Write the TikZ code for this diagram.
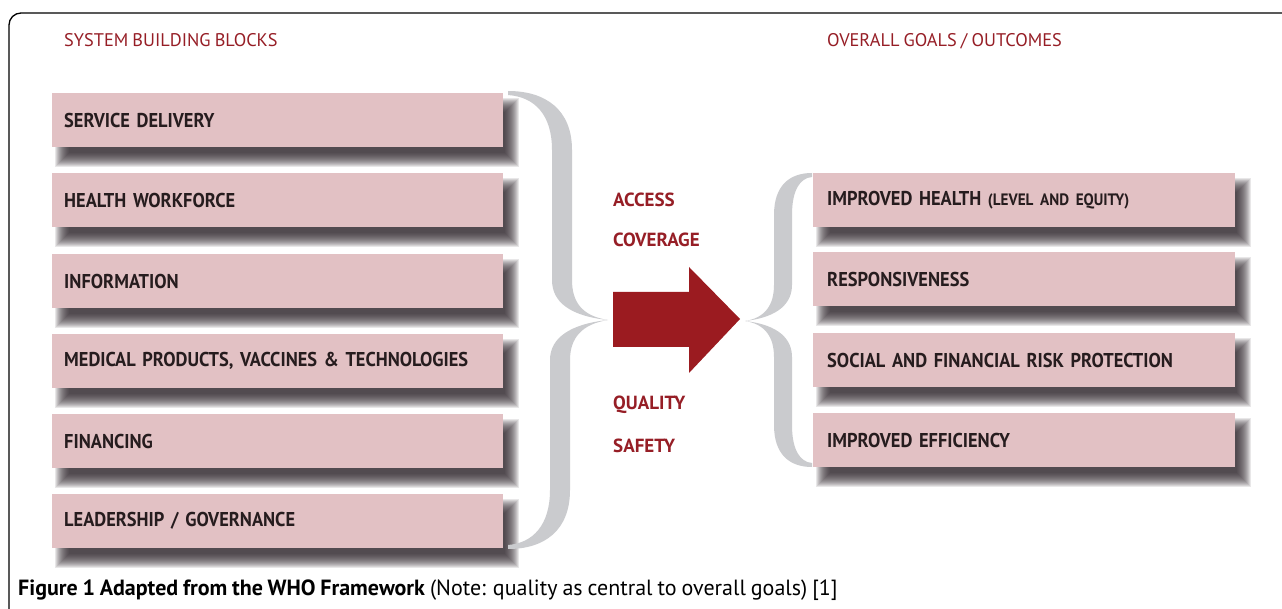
\documentclass[tikz,border=0pt]{standalone}
\usepackage{fontspec}
\setmainfont{PT Sans}
\newfontfamily\diafont{PT Sans}[FakeStretch=0.92, WordSpace=0.7]
\newfontfamily\labfont{PT Sans}[WordSpace=0.85]
\definecolor{boxpink}{RGB}{226,193,196}
\definecolor{boxtext}{RGB}{38,28,30}
\definecolor{darkred}{RGB}{150,30,38}
\definecolor{arrowred}{RGB}{155,27,32}
\definecolor{bracegray}{RGB}{202,203,206}
\definecolor{shadowgray}{RGB}{50,42,48}
\pgfdeclarelayer{bg}
\pgfsetlayers{bg,main}
\tikzset{
  blockbox/.style={fill=boxpink, anchor=north west, minimum height=54pt,
    text=boxtext, align=left, inner ysep=0pt,
    font=\diafont\bfseries\fontsize{20}{22}\selectfont},
  leftbox/.style={blockbox, text width=427pt, inner xsep=12pt},
  rightbox/.style={blockbox, text width=394pt, inner xsep=14pt},
  header/.style={anchor=base west, text=darkred, inner sep=0pt,
    font=\labfont\fontsize{18.3}{20}\selectfont},
  midlabel/.style={anchor=base west, text=darkred, inner sep=0pt,
    font=\labfont\bfseries\fontsize{19}{21}\selectfont},
  bracefill/.style={fill=bracegray, draw=none},
  shadowlayer/.style={fill=shadowgray, fill opacity=0.11, draw=none},
}
\begin{document}
\begin{tikzpicture}[x=1pt,y=-1pt]
\useasboundingbox (0,0) rectangle (1282,609);
\begin{pgfonlayer}{bg}
\fill[white] (0,0) rectangle (1282,609);
\end{pgfonlayer}
\begin{scope}
\clip (0,0) rectangle (1282,609);
\draw[line width=1.3pt, rounded corners=12pt] (9,13) rectangle (1320,660);
\end{scope}

% headers
\node[header] (hleft) at (64,47) {SYSTEM BUILDING BLOCKS};
\node[header] (hright) at (827,47) {OVERALL GOALS / OUTCOMES};

% left boxes
\node[leftbox] (sd) at (52,93) {SERVICE DELIVERY};
\node[leftbox] (hw) at (52,173) {HEALTH WORKFORCE};
\node[leftbox] (inf) at (52,254) {INFORMATION};
\node[leftbox] (med) at (52,334) {MEDICAL PRODUCTS, VACCINES \& TECHNOLOGIES};
\node[leftbox] (fin) at (52,414) {FINANCING};
\node[leftbox] (lead) at (52,494) {LEADERSHIP / GOVERNANCE};

% right boxes
\node[rightbox] (ih) at (813,173) {IMPROVED HEALTH {\fontsize{16.5}{18}\selectfont(LEVEL AND EQUITY)}};
\node[rightbox] (resp) at (813,252) {RESPONSIVENESS};
\node[rightbox] (sfr) at (813,333) {SOCIAL AND FINANCIAL RISK PROTECTION};
\node[rightbox] (ie) at (813,413) {IMPROVED EFFICIENCY};

% soft shadows and braces behind the boxes
\begin{pgfonlayer}{bg}
\foreach \n in {sd,hw,inf,med,fin,lead,ih,resp,sfr,ie}{
  \foreach \r in {-7,...,7}{
    \fill[shadowlayer] ([shift={(10-\r,12-\r)}]\n.north west) rectangle ([shift={(9+\r,13+\r)}]\n.south east);
  }
}
\path[bracefill] (508,91) .. controls (546,91) and (572,110) .. (572,150) -- (572,280)
  .. controls (572,302) and (582,316) .. (608,320)
  .. controls (582,324) and (570,338) .. (570,360) -- (570,490)
  .. controls (570,530) and (545,549) .. (508,549) -- (508,545)
  .. controls (533,543) and (550,525) .. (550,490) -- (550,360)
  .. controls (550,338) and (570,324) .. (608,320)
  .. controls (570,316) and (552,302) .. (552,280) -- (552,150)
  .. controls (552,115) and (535,97) .. (508,95) -- cycle;
\path[bracefill] (812,173) .. controls (790,173) and (774,185) .. (774,215) -- (774,285)
  .. controls (774,305) and (765,318) .. (745,321)
  .. controls (765,324) and (774,337) .. (774,357) -- (774,425)
  .. controls (774,455) and (790,467) .. (812,467) -- (812,463)
  .. controls (800,462) and (792,450) .. (792,425) -- (792,357)
  .. controls (792,340) and (780,325) .. (745,321)
  .. controls (780,317) and (792,302) .. (792,285) -- (792,215)
  .. controls (792,190) and (800,178) .. (812,177) -- cycle;
\end{pgfonlayer}

% middle labels
\node[midlabel] (acc) at (613,207) {ACCESS};
\node[midlabel] (cov) at (613,247) {COVERAGE};
\node[midlabel] (qual) at (613,409) {QUALITY};
\node[midlabel] (saf) at (613,452) {SAFETY};

% arrow
\fill[arrowred] (613,292) -- (689,292) -- (689,267) -- (740,319) -- (689,373) -- (689,347) -- (613,347) -- cycle;

% caption
\node[anchor=base west, inner sep=0pt, font=\labfont\fontsize{22}{24}\selectfont] (cap) at (18,595)
  {\textbf{Figure 1 Adapted from the WHO Framework} (Note: quality as central to overall goals) [1]};
\end{tikzpicture}
\end{document}
